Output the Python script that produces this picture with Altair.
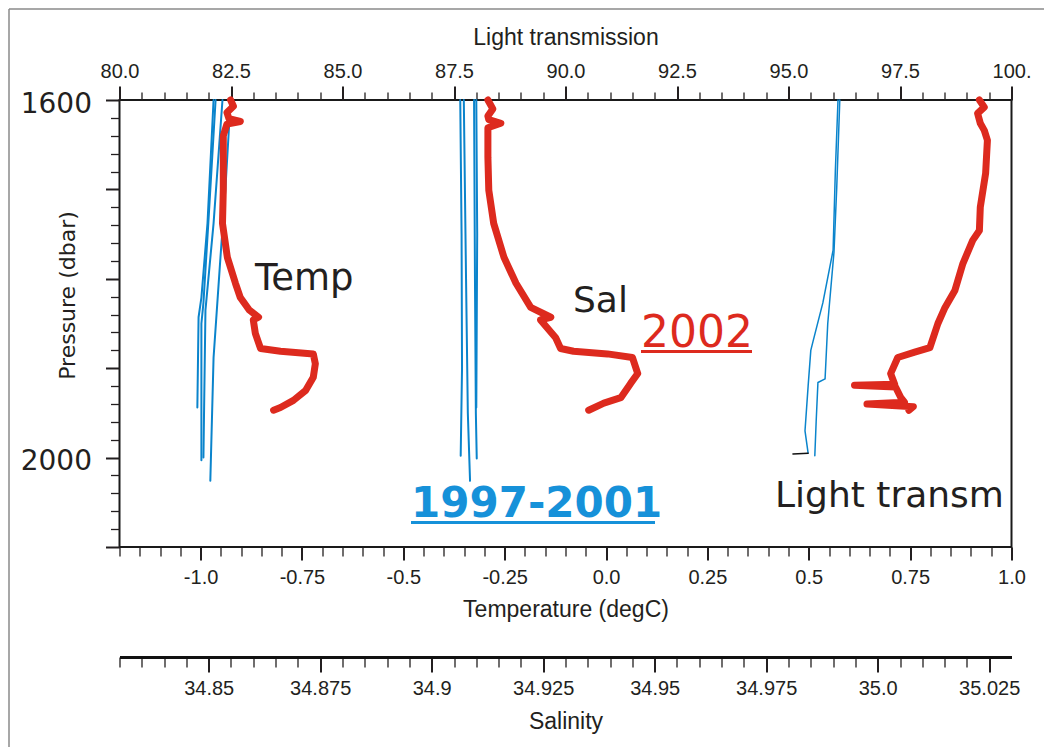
import altair as alt
import pandas as pd

# ---------------- data ----------------
# 1997-2001 temperature profiles (degC) vs pressure (dbar)
temp_blue_p = [
    [1600, 1738, 1821, 1843, 1944],
    [1600, 1738, 1827, 1850, 2003],
    [1600, 1738, 1835, 2000],
    [1600, 1701, 1776, 1888, 2026],
]
temp_blue_v = [
    [-0.968, -0.983, -0.998, -1.005, -1.008],
    [-0.963, -0.981, -0.993, -0.998, -0.998],
    [-0.946, -0.968, -0.988, -0.993],
    [-0.926, -0.939, -0.951, -0.968, -0.976],
]
# 2002 temperature
temp_red_p = [1600, 1607, 1614, 1621, 1624, 1627, 1640, 1700, 1738, 1776, 1805, 1821, 1835,
              1843, 1846, 1861, 1878, 1881, 1884, 1895, 1910, 1925, 1936, 1944, 1947]
temp_red_v = [-0.926, -0.919, -0.935, -0.930, -0.902, -0.935, -0.944, -0.944, -0.946, -0.934,
              -0.914, -0.902, -0.880, -0.857, -0.870, -0.865, -0.852, -0.803, -0.722, -0.717,
              -0.722, -0.741, -0.771, -0.803, -0.820]

# 1997-2001 salinity
sal_blue_p = [
    [1600, 1750, 1900, 1998],
    [1600, 1800, 1950, 2026],
    [1600, 1800, 1950, 2001],
    [1600, 1750, 1944],
]
sal_blue_v = [
    [34.9064, 34.9067, 34.9068, 34.9065],
    [34.9072, 34.9077, 34.9081, 34.9086],
    [34.9095, 34.9097, 34.9099, 34.9101],
    [34.9100, 34.9102, 34.9100],
]
# 2002 salinity
sal_red_p = [1600, 1610, 1618, 1622, 1626, 1631, 1664, 1701, 1738, 1776, 1805, 1832, 1843,
             1846, 1866, 1878, 1881, 1884, 1888, 1906, 1917, 1933, 1939, 1947]
sal_red_v = [34.9126, 34.9137, 34.9126, 34.9128, 34.9155, 34.9126, 34.9126, 34.9128, 34.9139,
             34.9162, 34.9189, 34.9222, 34.9267, 34.9244, 34.9278, 34.9289, 34.9318, 34.9394,
             34.9450, 34.9462, 34.9446, 34.9424, 34.9386, 34.9352]

# 1997-2001 light transmission
lt_blue_p = [
    [1600, 1680, 1768, 1827, 1870, 1880, 1920, 1970, 1995],
    [1600, 1700, 1770, 1850, 1912, 1916, 1960, 1998],
]
lt_blue_v = [
    [96.11, 96.05, 96.00, 95.77, 95.55, 95.50, 95.44, 95.37, 95.44],
    [96.15, 96.08, 96.02, 95.88, 95.82, 95.66, 95.62, 95.59],
]
lt_end_p = [1995, 1996]
lt_end_v = [95.44, 95.10]
# 2002 light transmission
lt_red_p = [1600, 1608, 1615, 1626, 1634, 1645, 1682, 1720, 1746, 1757, 1783, 1813, 1832,
            1850, 1877, 1882, 1888, 1906, 1918, 1919, 1921, 1933, 1938, 1940, 1943, 1947]
lt_red_v = [99.28, 99.39, 99.24, 99.30, 99.39, 99.46, 99.42, 99.30, 99.28, 99.13, 98.91,
            98.73, 98.51, 98.35, 98.17, 97.83, 97.45, 97.29, 97.38, 96.48, 97.40, 97.52,
            97.60, 96.76, 97.80, 97.70]

# tick values
temp_ticks = [round(-1.2 + 0.05 * i, 2) for i in range(45)]
sal_ticks = [round(34.83 + 0.005 * i, 3) for i in range(40)]
lt_ticks = [round(80 + 0.5 * i, 1) for i in range(41)]
p_ticks = [1600 + 20 * i for i in range(26)]


def profiles(ps, vs, name):
    rows = []
    for k, (p, v) in enumerate(zip(ps, vs)):
        for i, (pp, vv) in enumerate(zip(p, v)):
            rows.append({"series": f"{name}{k}", "i": i, "P": pp, "val": vv})
    return pd.DataFrame(rows)


# ---------------- styling ----------------
LABEL_FONT = "Liberation Sans"
ANN_FONT = "DejaVu Sans"
INK = "#231f20"
RED = "#dd2a1e"
BLUE = "#0a84cc"
TEXT_BLUE = "#1691d9"

common = dict(labelFont=LABEL_FONT, labelFontSize=20, labelColor=INK,
              titleFont=LABEL_FONT, titleFontSize=23, titleFontWeight="normal",
              titleColor=INK, tickColor=INK, grid=False, labelOverlap=False,
              labelFlush=False, labelBound=False)

MAJ_T = "abs(round(datum.value*100) % 25) == 0"
MAJ_S = "abs(round(datum.value*1000) % 25) == 0"
MAJ_L = "abs(round(datum.value*10) % 25) == 0"
MAJ_P = "datum.value % 100 == 0"

temp_axis = alt.Axis(
    orient="bottom", values=temp_ticks, title="Temperature (degC)", domain=False,
    labelExpr=("(" + MAJ_T + ") ? ((datum.value < 0 ? '-' : '') + "
               "(indexof(format(abs(datum.value), '.2~f'), '.') < 0 ? format(abs(datum.value), '.1f') "
               ": format(abs(datum.value), '.2~f'))) : ''"),
    tickSize={"condition": {"test": MAJ_T, "value": 13}, "value": 9},
    tickWidth={"condition": {"test": MAJ_T, "value": 2}, "value": 1.3},
    labelPadding=7, titlePadding=11, **common)

sal_axis = alt.Axis(
    orient="bottom", offset=110, values=sal_ticks, title="Salinity",
    domain=True, domainColor="#111111", domainWidth=3,
    labelExpr=("(" + MAJ_S + ") ? (indexof(format(datum.value, '.3~f'), '.') < 0 ? "
               "format(datum.value, '.1f') : format(datum.value, '.3~f')) : ''"),
    tickSize={"condition": {"test": MAJ_S, "value": 15}, "value": 10},
    tickWidth={"condition": {"test": MAJ_S, "value": 2}, "value": 1.3},
    labelPadding=6, titlePadding=12, **common)

lt_axis = alt.Axis(
    orient="top", values=lt_ticks, title="Light transmission", domain=False,
    labelExpr=("(" + MAJ_L + ") ? (datum.value == 100 ? '100.' : format(datum.value, '.1f')) : ''"),
    tickSize={"condition": {"test": MAJ_L, "value": 14}, "value": 8},
    tickWidth={"condition": {"test": MAJ_L, "value": 2}, "value": 1.3},
    labelPadding=5, titlePadding=12, **common)

p_axis = alt.Axis(
    orient="left", values=p_ticks, title="Pressure (dbar)", domain=False,
    grid=False, labelOverlap=False, labelFlush=False, labelBound=False,
    labelExpr="(datum.value == 1600 || datum.value == 2000) ? format(datum.value, 'd') : ''",
    labelFont=ANN_FONT, labelFontSize=28, labelColor=INK, labelPadding=14, labelOffset=4,
    tickColor=INK,
    tickSize={"condition": {"test": MAJ_P, "value": 14}, "value": 9},
    tickWidth={"condition": {"test": MAJ_P, "value": 2}, "value": 1.3},
    titleFont=ANN_FONT, titleFontSize=22, titleFontWeight="normal", titleColor=INK,
    titleX=-52, titleY=195, titleBaseline="middle", titleAngle=270)

y_enc = alt.Y("P:Q", scale=alt.Scale(domain=[1600, 2100], reverse=True, nice=False, zero=False),
              axis=p_axis)


def line(df, scale, axis, color, width):
    return alt.Chart(df).mark_line(color=color, strokeWidth=width,
                                   strokeCap="round", strokeJoin="round").encode(
        x=alt.X("val:Q", scale=scale, axis=axis),
        y=y_enc,
        detail="series:N",
        order="i:Q",
    )


t_scale = alt.Scale(domain=[-1.2, 1.0], nice=False, zero=False)
s_scale = alt.Scale(domain=[34.83, 35.03], nice=False, zero=False)
l_scale = alt.Scale(domain=[80, 100], nice=False, zero=False)

temp_layer = alt.layer(
    line(profiles(temp_blue_p, temp_blue_v, "tb"), t_scale, temp_axis, BLUE, 2),
    line(profiles([temp_red_p], [temp_red_v], "tr"), t_scale, temp_axis, RED, 7),
)
sal_layer = alt.layer(
    line(profiles(sal_blue_p, sal_blue_v, "sb"), s_scale, sal_axis, BLUE, 2),
    line(profiles([sal_red_p], [sal_red_v], "sr"), s_scale, sal_axis, RED, 7),
)
lt_layer = alt.layer(
    line(profiles(lt_blue_p, lt_blue_v, "lb"), l_scale, lt_axis, BLUE, 1.5),
    line(profiles([lt_end_p], [lt_end_v], "lk"), l_scale, lt_axis, "#111111", 1.5),
    line(profiles([lt_red_p], [lt_red_v], "lr"), l_scale, lt_axis, RED, 7),
)


def label(txt, x, y, color, size, weight="normal"):
    return alt.Chart(pd.DataFrame({"t": [txt]})).mark_text(
        font=ANN_FONT, fontSize=size, fontWeight=weight, color=color,
        align="left", baseline="alphabetic").encode(
        text="t:N", x=alt.value(x), y=alt.value(y))


def hline(x1, x2, y, color, w):
    return alt.Chart(pd.DataFrame({"a": [0]})).mark_rule(color=color, strokeWidth=w).encode(
        x=alt.value(x1), x2=alt.value(x2), y=alt.value(y))


def vline(x, y1, y2, color, w):
    return alt.Chart(pd.DataFrame({"a": [0]})).mark_rule(color=color, strokeWidth=w).encode(
        x=alt.value(x), y=alt.value(y1), y2=alt.value(y2))


annotations = [
    label("Temp", 135.5, 190, INK, 37),
    label("Sal", 453.5, 212, INK, 36),
    label("2002", 521.5, 247, RED, 44),
    hline(521.5, 632.5, 251.5, RED, 3),
    label("1997-2001", 291.5, 417, TEXT_BLUE, 42, "bold"),
    hline(291.5, 535.5, 422.5, TEXT_BLUE, 3),
    label("Light transm", 655.5, 407, INK, 36),
    hline(-110.5, 930, -91, "#8a8a8a", 1.5),
    vline(-110.5, -91, 650, "#8a8a8a", 1.5),
]

chart = alt.layer(temp_layer, sal_layer, lt_layer, *annotations).resolve_scale(
    x="independent"
).properties(
    width=892, height=447,
    autosize="none",
    padding={"left": 111.5, "top": 92, "right": 32, "bottom": 200},
).configure_view(stroke="#1a1a1a", strokeWidth=2)

chart.save("out.html", embed_options={"renderer": "svg", "actions": False})
